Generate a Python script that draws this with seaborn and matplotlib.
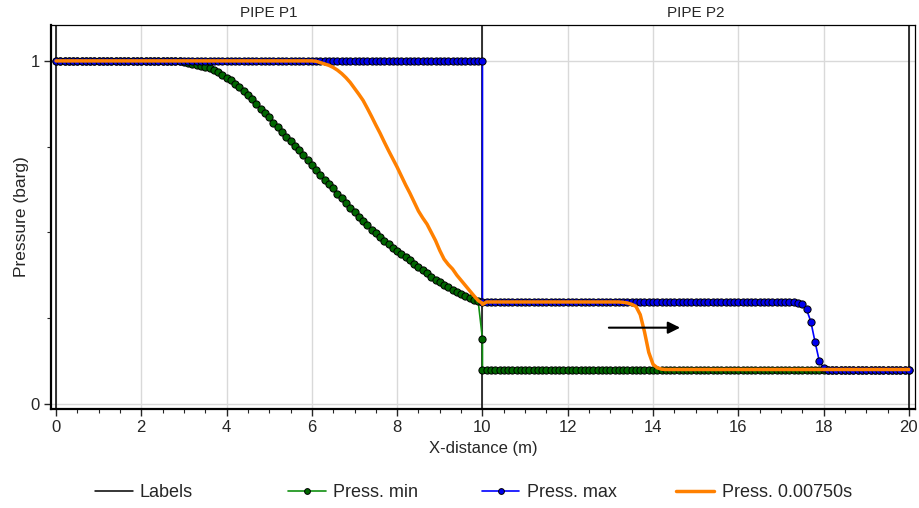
import numpy as np
import pandas as pd
import matplotlib
matplotlib.use("Agg")
import matplotlib.pyplot as plt
from matplotlib.ticker import MultipleLocator
import seaborn as sns

# sample positions along each pipe (m)
x_p1 = np.round(np.linspace(0, 10, 101), 1)
x_p2 = np.round(np.linspace(10, 20, 101), 1)

# Press. min, pipe P1 then P2 (barg)
press_min_p1 = [
    1.0, 1.0, 1.0, 1.0, 1.0, 1.0, 1.0, 1.0, 1.0, 1.0,
    1.0, 1.0, 1.0, 1.0, 1.0, 1.0, 1.0, 1.0, 1.0, 1.0,
    1.0, 1.0, 1.0, 1.0, 1.0, 1.0, 1.0, 1.0, 1.0, 0.999,
    0.998, 0.995, 0.992, 0.989, 0.986, 0.983, 0.979, 0.973, 0.967, 0.959,
    0.951, 0.943, 0.934, 0.924, 0.913, 0.902, 0.890, 0.875, 0.860, 0.847,
    0.835, 0.820, 0.806, 0.792, 0.779, 0.767, 0.753, 0.739, 0.725, 0.711,
    0.697, 0.682, 0.667, 0.652, 0.640, 0.628, 0.613, 0.599, 0.586, 0.572,
    0.558, 0.545, 0.533, 0.520, 0.508, 0.497, 0.487, 0.476, 0.465, 0.455,
    0.446, 0.436, 0.427, 0.418, 0.408, 0.399, 0.390, 0.381, 0.371, 0.362,
    0.355, 0.347, 0.340, 0.333, 0.327, 0.321, 0.315, 0.309, 0.304, 0.299,
    0.190,
]
press_min_p2 = [
    0.1, 0.1, 0.1, 0.1, 0.1, 0.1, 0.1, 0.1, 0.1, 0.1,
    0.1, 0.1, 0.1, 0.1, 0.1, 0.1, 0.1, 0.1, 0.1, 0.1,
    0.1, 0.1, 0.1, 0.1, 0.1, 0.1, 0.1, 0.1, 0.1, 0.1,
    0.1, 0.1, 0.1, 0.1, 0.1, 0.1, 0.1, 0.1, 0.1, 0.1,
    0.1, 0.1, 0.1, 0.1, 0.1, 0.1, 0.1, 0.1, 0.1, 0.1,
    0.1, 0.1, 0.1, 0.1, 0.1, 0.1, 0.1, 0.1, 0.1, 0.1,
    0.1, 0.1, 0.1, 0.1, 0.1, 0.1, 0.1, 0.1, 0.1, 0.1,
    0.1, 0.1, 0.1, 0.1, 0.1, 0.1, 0.1, 0.1, 0.1, 0.1,
    0.1, 0.1, 0.1, 0.1, 0.1, 0.1, 0.1, 0.1, 0.1, 0.1,
    0.1, 0.1, 0.1, 0.1, 0.1, 0.1, 0.1, 0.1, 0.1, 0.1,
    0.1,
]

# Press. max
press_max_p1 = [
    1.0, 1.0, 1.0, 1.0, 1.0, 1.0, 1.0, 1.0, 1.0, 1.0,
    1.0, 1.0, 1.0, 1.0, 1.0, 1.0, 1.0, 1.0, 1.0, 1.0,
    1.0, 1.0, 1.0, 1.0, 1.0, 1.0, 1.0, 1.0, 1.0, 1.0,
    1.0, 1.0, 1.0, 1.0, 1.0, 1.0, 1.0, 1.0, 1.0, 1.0,
    1.0, 1.0, 1.0, 1.0, 1.0, 1.0, 1.0, 1.0, 1.0, 1.0,
    1.0, 1.0, 1.0, 1.0, 1.0, 1.0, 1.0, 1.0, 1.0, 1.0,
    1.0, 1.0, 1.0, 1.0, 1.0, 1.0, 1.0, 1.0, 1.0, 1.0,
    1.0, 1.0, 1.0, 1.0, 1.0, 1.0, 1.0, 1.0, 1.0, 1.0,
    1.0, 1.0, 1.0, 1.0, 1.0, 1.0, 1.0, 1.0, 1.0, 1.0,
    1.0, 1.0, 1.0, 1.0, 1.0, 1.0, 1.0, 1.0, 1.0, 1.0,
    1.0,
]
press_max_p2 = [
    0.297, 0.297, 0.297, 0.297, 0.297, 0.297, 0.297, 0.297, 0.297, 0.297,
    0.297, 0.297, 0.297, 0.297, 0.297, 0.297, 0.297, 0.297, 0.297, 0.297,
    0.297, 0.297, 0.297, 0.297, 0.297, 0.297, 0.297, 0.297, 0.297, 0.297,
    0.297, 0.297, 0.297, 0.297, 0.297, 0.297, 0.297, 0.297, 0.297, 0.297,
    0.297, 0.297, 0.297, 0.297, 0.297, 0.297, 0.297, 0.297, 0.297, 0.297,
    0.297, 0.297, 0.297, 0.297, 0.297, 0.297, 0.297, 0.297, 0.297, 0.297,
    0.297, 0.297, 0.297, 0.297, 0.297, 0.297, 0.297, 0.297, 0.297, 0.297,
    0.297, 0.297, 0.297, 0.296, 0.295, 0.290, 0.275, 0.240, 0.180, 0.124,
    0.105, 0.1, 0.1, 0.1, 0.1, 0.1, 0.1, 0.1, 0.1, 0.1,
    0.1, 0.1, 0.1, 0.1, 0.1, 0.1, 0.1, 0.1, 0.1, 0.1,
    0.1,
]

# Press. 0.00750s
press_t_p1 = [
    1.0, 1.0, 1.0, 1.0, 1.0, 1.0, 1.0, 1.0, 1.0, 1.0,
    1.0, 1.0, 1.0, 1.0, 1.0, 1.0, 1.0, 1.0, 1.0, 1.0,
    1.0, 1.0, 1.0, 1.0, 1.0, 1.0, 1.0, 1.0, 1.0, 1.0,
    1.0, 1.0, 1.0, 1.0, 1.0, 1.0, 1.0, 1.0, 1.0, 1.0,
    1.0, 1.0, 1.0, 1.0, 1.0, 1.0, 1.0, 1.0, 1.0, 1.0,
    1.0, 1.0, 1.0, 1.0, 1.0, 1.0, 1.0, 1.0, 1.0, 1.0,
    1.0, 0.999, 0.995, 0.991, 0.987, 0.981, 0.973, 0.963, 0.951, 0.937,
    0.920, 0.903, 0.885, 0.862, 0.838, 0.813, 0.789, 0.763, 0.738, 0.714,
    0.690, 0.664, 0.638, 0.614, 0.588, 0.562, 0.542, 0.524, 0.500, 0.476,
    0.447, 0.422, 0.406, 0.393, 0.375, 0.360, 0.345, 0.330, 0.315, 0.301,
    0.293,
]
press_t_p2 = [
    0.290, 0.297, 0.297, 0.297, 0.297, 0.297, 0.297, 0.297, 0.297, 0.297,
    0.297, 0.297, 0.297, 0.297, 0.297, 0.297, 0.297, 0.297, 0.297, 0.297,
    0.297, 0.297, 0.297, 0.297, 0.297, 0.297, 0.297, 0.297, 0.297, 0.297,
    0.297, 0.297, 0.297, 0.296, 0.294, 0.290, 0.284, 0.260, 0.210, 0.150,
    0.115, 0.105, 0.101, 0.1, 0.1, 0.1, 0.1, 0.1, 0.1, 0.1,
    0.1, 0.1, 0.1, 0.1, 0.1, 0.1, 0.1, 0.1, 0.1, 0.1,
    0.1, 0.1, 0.1, 0.1, 0.1, 0.1, 0.1, 0.1, 0.1, 0.1,
    0.1, 0.1, 0.1, 0.1, 0.1, 0.1, 0.1, 0.1, 0.1, 0.1,
    0.1, 0.1, 0.1, 0.1, 0.1, 0.1, 0.1, 0.1, 0.1, 0.1,
    0.1, 0.1, 0.1, 0.1, 0.1, 0.1, 0.1, 0.1, 0.1, 0.1,
    0.1,
]

# pipe boundaries ("Labels") and pipe names
label_x = [0, 10, 20]
pipe_names = ["PIPE P1", "PIPE P2"]
pipe_mid = [5, 15]

# direction arrow
arrow_start = (12.9, 0.222)
arrow_end = (14.7, 0.222)


def series(p1, p2, name):
    d = pd.DataFrame({"x": np.concatenate([x_p1, x_p2]),
                      "p": np.concatenate([p1, p2])})
    d["series"] = name
    return d


df_min = series(press_min_p1, press_min_p2, "Press. min")
df_max = series(press_max_p1, press_max_p2, "Press. max")
df_t = series(press_t_p1, press_t_p2, "Press. 0.00750s")

sns.set_style("ticks")
plt.rcParams["font.family"] = ["Liberation Sans", "DejaVu Sans"]
plt.rcParams["font.size"] = 12

fig = plt.figure(figsize=(9.19, 5.08), dpi=100)
ax = fig.add_axes([0.0555, 0.195, 0.94, 0.756])

for i, xv in enumerate(label_x):
    ax.axvline(xv, color="black", lw=1.1, zorder=2,
               label="Labels" if i == 0 else None)

sns.lineplot(data=df_min, x="x", y="p", estimator=None, sort=False,
             color="#109010", lw=1.2, marker="o", markersize=5.2,
             markerfacecolor="#006600", markeredgecolor="black",
             markeredgewidth=0.7, label="Press. min", legend=False,
             ax=ax, zorder=3)
sns.lineplot(data=df_max, x="x", y="p", estimator=None, sort=False,
             color="#0000ff", lw=1.2, marker="o", markersize=5.2,
             markerfacecolor="#0000ee", markeredgecolor="black",
             markeredgewidth=0.7, label="Press. max", legend=False,
             ax=ax, zorder=4)
sns.lineplot(data=df_t, x="x", y="p", estimator=None, sort=False,
             color="#ff8000", lw=2.5, label="Press. 0.00750s",
             legend=False, ax=ax, zorder=5)

ax.annotate("", xy=arrow_end, xytext=arrow_start,
            arrowprops=dict(arrowstyle="-|>", color="black", lw=1.5,
                            mutation_scale=18), zorder=6)

for name, xm in zip(pipe_names, pipe_mid):
    ax.text(xm, 1.012, name, transform=ax.get_xaxis_transform(),
            ha="center", va="bottom", fontsize=11)

ax.set_xlim(-0.117, 20.14)
ax.set_ylim(-0.015, 1.105)
ax.xaxis.set_major_locator(MultipleLocator(2))
ax.xaxis.set_minor_locator(MultipleLocator(0.5))
ax.set_yticks([0, 1])
ax.set_yticklabels(["0", "1"])
ax.yaxis.set_minor_locator(MultipleLocator(0.25))
ax.tick_params(which="major", length=5, width=1, pad=3, labelsize=12)
ax.tick_params(which="minor", length=3, width=0.8)
ax.grid(True, which="major", color="#d9d9d9", lw=1)
ax.set_axisbelow(True)

for side in ["left", "bottom"]:
    ax.spines[side].set_linewidth(1.6)
for side in ["top", "right"]:
    ax.spines[side].set_linewidth(0.9)
for s in ax.spines.values():
    s.set_color("black")

ax.set_xlabel("X-distance (m)", fontsize=12, labelpad=4)
ax.set_ylabel("Pressure (barg)", fontsize=12.5, labelpad=1)

handles, labels = ax.get_legend_handles_labels()
legend_x = [0.103, 0.313, 0.524, 0.736]
for h, lab, lx in zip(handles, labels, legend_x):
    fig.legend([h], [lab], loc="center left", bbox_to_anchor=(lx, 0.03),
               frameon=False, borderpad=0, borderaxespad=0,
               handlelength=2.1, handletextpad=0.4, numpoints=1,
               markerscale=0.8, fontsize=13)

fig.savefig("out.png", dpi=100)
